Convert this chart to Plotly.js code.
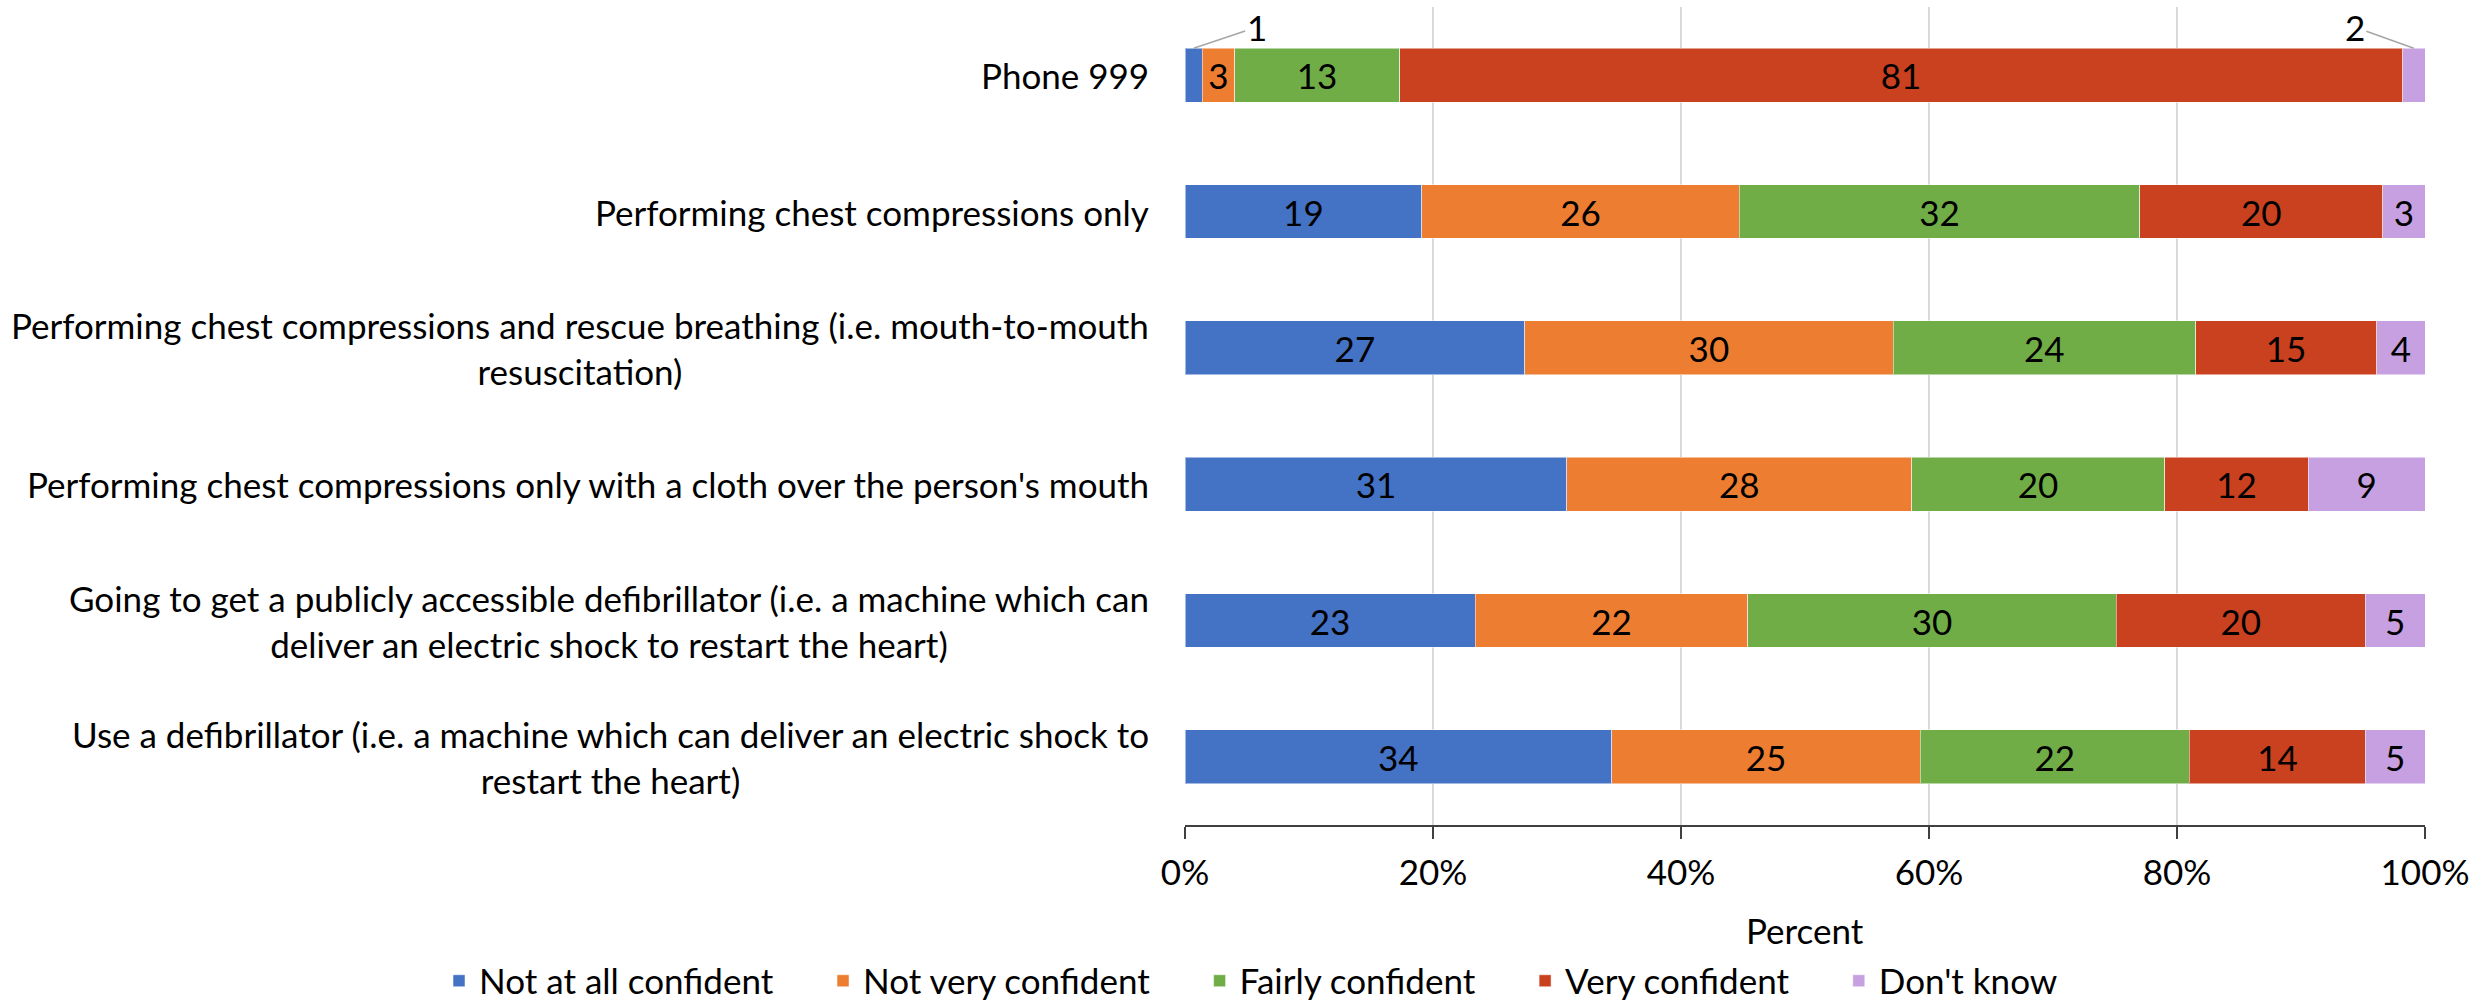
<!DOCTYPE html>
<html>
<head>
<meta charset="utf-8">
<script src="https://cdn.plot.ly/plotly-3.0.1.min.js"></script>
<style>html,body{margin:0;padding:0;background:#fff;}#chart{width:2490px;height:1002px;}</style>
</head>
<body>
<div id="chart"></div>
<script>
const categories = [
  'Phone 999',
  'Performing chest compressions only',
  'Performing chest compressions and rescue breathing (i.e. mouth-to-mouth<br>resuscitation)',
  "Performing chest compressions only with a cloth over the person's mouth",
  'Going to get a publicly accessible defibrillator (i.e. a machine which can<br>deliver an electric shock to restart the heart)',
  'Use a defibrillator (i.e. a machine which can deliver an electric shock to<br>restart the heart)'
];
const seriesNames = ['Not at all confident', 'Not very confident', 'Fairly confident', 'Very confident', "Don't know"];
const notAtAll  = [1.4, 19.1, 27.4, 30.8, 23.4, 34.4];
const notVery   = [2.6, 25.6, 29.7, 27.8, 22.0, 24.9];
const fairly    = [13.3, 32.3, 24.4, 20.4, 29.7, 21.7];
const very      = [80.9, 19.6, 14.6, 11.6, 20.1, 14.2];
const dontKnow  = [1.8, 3.4, 3.9, 9.4, 4.8, 4.8];
const xTickVals = [0, 20, 40, 60, 80, 100];
const xTitle = 'Percent';

const colors = ['#4472C4', '#ED7D31', '#70AD47', '#CA4120', '#C6A0E0'];
const FONT = 'Lato, "Open Sans", sans-serif';
const FS = 35;
const allSeries = [notAtAll, notVery, fairly, very, dontKnow];
const PAD = '\u00a0\u00a0\u00a0\u00a0\u00a0';

const traces = allSeries.map((vals, s) => ({
  type: 'bar',
  orientation: 'h',
  name: seriesNames[s] + (s < seriesNames.length - 1 ? PAD : ''),
  x: vals,
  y: categories,
  marker: {color: colors[s], line: {color: 'rgba(255,255,255,0.5)', width: 1}},
  text: vals.map(v => v >= 2.5 ? String(Math.round(v)) : ''),
  textposition: 'inside',
  insidetextanchor: 'middle',
  textangle: 0,
  constraintext: 'none',
  textfont: {family: FONT, size: FS, color: '#000'},
  hoverinfo: 'x+name'
}));

const annotations = categories.map((c, i) => ({
  xref: 'paper', yref: 'y', x: 0, y: i, xshift: -34,
  xanchor: 'right', yanchor: 'middle', align: 'center',
  text: c, showarrow: false,
  font: {family: FONT, size: FS, color: '#000'}
}));

// x-axis title
annotations.push({
  xref: 'paper', yref: 'paper', x: 0.5, y: 0, yshift: -105,
  xanchor: 'center', yanchor: 'middle', showarrow: false,
  text: xTitle, font: {family: FONT, size: FS, color: '#000'}
});

// Outside labels with leader lines for narrow segments
allSeries.forEach((vals, s) => {
  vals.forEach((v, i) => {
    if (v < 2.5) {
      let start = 0;
      for (let k = 0; k < s; k++) start += allSeries[k][i];
      const mid = start + v / 2;
      const left = mid < 50;
      annotations.push({
        xref: 'x', yref: 'y', x: mid, y: i, yshift: 27,
        text: String(Math.round(v)),
        showarrow: true, arrowhead: 0, arrowwidth: 1.5, arrowcolor: '#A6A6A6',
        ax: left ? 63 : -59, ay: -21,
        font: {family: FONT, size: FS, color: '#000'}
      });
    }
  });
});

const layout = {
  width: 2490, height: 1002,
  paper_bgcolor: '#fff', plot_bgcolor: '#fff',
  margin: {l: 1185, r: 65, t: 7, b: 177, autoexpand: false},
  barmode: 'stack',
  bargap: 0.605,
  font: {family: FONT, size: FS, color: '#000'},
  xaxis: {
    range: [0, 100],
    tickvals: xTickVals,
    ticktext: xTickVals.map(v => v + '%'),
    showgrid: true, gridcolor: '#D9D9D9', gridwidth: 2,
    zeroline: false,
    showline: true, linecolor: '#404040', linewidth: 2,
    ticks: 'outside', ticklen: 12, tickwidth: 2, tickcolor: '#404040',
    ticklabelstandoff: 4,
    tickfont: {family: FONT, size: FS, color: '#000'},
    fixedrange: true
  },
  yaxis: {
    type: 'category',
    autorange: 'reversed',
    showticklabels: false,
    showgrid: false, zeroline: false, showline: false, ticks: '',
    fixedrange: true
  },
  showlegend: true,
  legend: {
    orientation: 'h',
    xref: 'paper', yref: 'paper',
    x: -0.6016, xanchor: 'left',
    y: -0.1907, yanchor: 'middle',
    font: {family: FONT, size: FS, color: '#000'},
    traceorder: 'normal'
  },
  annotations: annotations
};

Plotly.newPlot('chart', traces, layout, {displayModeBar: false, staticPlot: true});
</script>
</body>
</html>
